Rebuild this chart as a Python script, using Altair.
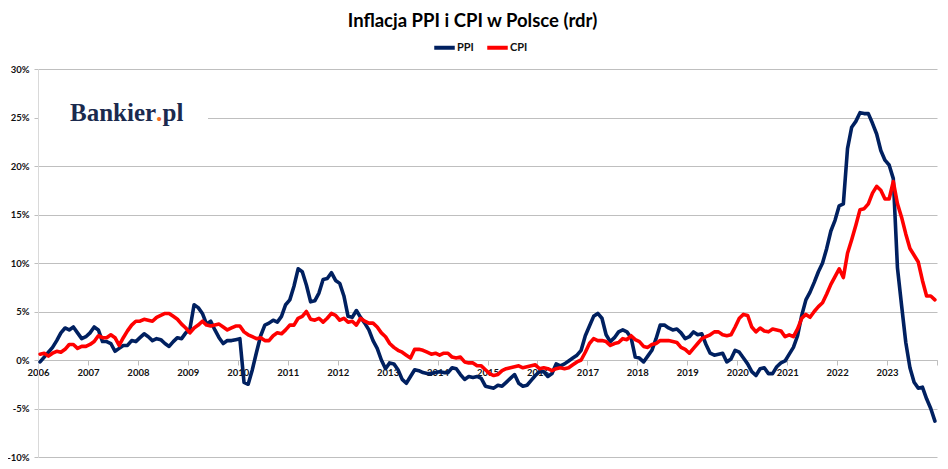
import altair as alt
import pandas as pd

# ---- data (y/y %, monthly, Jan 2006 .. Dec 2023) ----
start_year = 2006
year_ticks = list(range(2006, 2025))
y_ticks = [-10, -5, 0, 5, 10, 15, 20, 25, 30]

ppi = [
    -0.2, 0.3, 0.8, 1.3, 2.0, 2.8, 3.3, 3.1, 3.4, 2.8, 2.2, 2.4,      # 2006
    2.8, 3.4, 3.1, 1.9, 1.9, 1.7, 0.9, 1.2, 1.5, 1.5, 2.0, 1.9,       # 2007
    2.3, 2.7, 2.4, 2.0, 2.2, 2.1, 1.7, 1.4, 1.9, 2.3, 2.2, 2.8,       # 2008
    3.2, 5.7, 5.4, 4.8, 3.7, 4.0, 3.1, 2.3, 1.7, 2.0, 2.0, 2.1,       # 2009
    2.2, -2.3, -2.5, -1.0, 0.8, 2.5, 3.6, 3.8, 4.1, 3.9, 4.5, 5.7,    # 2010
    6.2, 7.6, 9.4, 9.1, 7.7, 6.0, 6.1, 6.9, 8.3, 8.4, 9.0, 8.2,       # 2011
    7.9, 6.6, 4.5, 4.4, 5.1, 4.4, 3.8, 3.1, 2.0, 1.2, 0.0, -0.9,      # 2012
    -0.3, -0.4, -1.0, -2.0, -2.4, -1.7, -1.0, -1.1, -1.3, -1.4, -1.4, -1.3,  # 2013
    -1.2, -1.3, -1.3, -0.8, -0.9, -1.5, -2.0, -1.7, -1.8, -1.7, -1.9, -2.7,  # 2014
    -2.8, -2.9, -2.6, -2.7, -2.3, -1.9, -1.5, -2.4, -2.7, -2.6, -2.1, -1.6,  # 2015
    -1.2, -1.2, -1.7, -1.4, -0.4, -0.6, -0.4, -0.1, 0.2, 0.5, 1.0, 2.5,     # 2016
    3.5, 4.5, 4.8, 4.3, 2.6, 1.9, 2.3, 2.9, 3.1, 2.9, 2.3, 0.3,       # 2017
    0.2, -0.2, 0.4, 1.0, 2.2, 3.6, 3.6, 3.3, 3.1, 3.2, 2.8, 2.2,      # 2018
    2.4, 2.9, 2.6, 2.7, 1.6, 0.7, 0.5, 0.6, 0.7, -0.2, 0.1, 1.0,      # 2019
    0.8, 0.2, -0.4, -1.2, -1.6, -0.9, -0.8, -1.4, -1.4, -0.7, -0.3, -0.1,  # 2020
    0.6, 1.3, 2.5, 4.6, 6.2, 7.0, 8.0, 9.1, 10.0, 11.5, 13.3, 14.4,   # 2021
    15.9, 16.1, 21.8, 24.0, 24.6, 25.5, 25.4, 25.4, 24.4, 23.3, 21.6, 20.6,  # 2022
    20.1, 18.7, 9.5, 5.6, 1.8, -0.8, -2.3, -2.9, -2.8, -4.0, -5.0, -6.3,    # 2023
]

cpi = [
    0.6, 0.7, 0.4, 0.7, 0.9, 0.8, 1.1, 1.6, 1.6, 1.2, 1.4, 1.4,       # 2006
    1.6, 1.9, 2.5, 2.3, 2.3, 2.6, 2.3, 1.5, 2.3, 3.0, 3.6, 4.0,       # 2007
    4.0, 4.2, 4.1, 4.0, 4.4, 4.6, 4.8, 4.8, 4.5, 4.2, 3.7, 3.3,       # 2008
    2.8, 3.3, 3.6, 4.0, 3.6, 3.5, 3.6, 3.7, 3.4, 3.1, 3.3, 3.5,       # 2009
    3.5, 2.9, 2.6, 2.4, 2.2, 2.3, 2.0, 2.0, 2.5, 2.8, 2.7, 3.1,       # 2010
    3.6, 3.6, 4.3, 4.5, 5.0, 4.2, 4.1, 4.3, 3.9, 4.3, 4.8, 4.6,       # 2011
    4.1, 4.3, 3.9, 4.0, 3.6, 4.3, 4.0, 3.8, 3.8, 3.4, 2.8, 2.4,       # 2012
    1.7, 1.3, 1.0, 0.8, 0.5, 0.2, 1.1, 1.1, 1.0, 0.8, 0.6, 0.7,       # 2013
    0.5, 0.7, 0.7, 0.3, 0.2, 0.3, -0.2, -0.3, -0.3, -0.6, -0.6, -1.0,  # 2014
    -1.4, -1.6, -1.5, -1.1, -0.9, -0.8, -0.7, -0.6, -0.8, -0.7, -0.6, -0.5,  # 2015
    -0.9, -0.8, -0.9, -1.1, -0.9, -0.8, -0.9, -0.8, -0.5, -0.2, 0.0, 0.8,   # 2016
    1.7, 2.2, 2.0, 2.0, 1.9, 1.5, 1.7, 1.8, 2.2, 2.1, 2.5, 2.1,       # 2017
    1.9, 1.4, 1.3, 1.6, 1.7, 2.0, 2.0, 2.0, 1.9, 1.8, 1.3, 1.1,       # 2018
    0.7, 1.2, 1.7, 2.2, 2.4, 2.6, 2.9, 2.9, 2.6, 2.5, 2.6, 3.4,       # 2019
    4.3, 4.7, 4.6, 3.4, 2.9, 3.3, 3.0, 2.9, 3.2, 3.1, 3.0, 2.4,       # 2020
    2.6, 2.4, 3.2, 4.3, 4.7, 4.4, 5.0, 5.5, 5.9, 6.8, 7.8, 8.6,       # 2021
    9.4, 8.5, 11.0, 12.4, 13.9, 15.5, 15.6, 16.1, 17.2, 17.9, 17.5, 16.6,  # 2022
    16.6, 18.4, 16.1, 14.7, 13.0, 11.5, 10.8, 10.1, 8.2, 6.6, 6.6, 6.2,    # 2023
]

series_names = ["PPI", "CPI"]
series_colors = ["#002060", "#FF0000"]
title_text = "Inflacja PPI i CPI w Polsce (rdr)"

# month centre positions on a fractional-year axis
n = len(ppi)
t = [start_year + (i + 0.5) / 12 for i in range(n)]
df = pd.DataFrame({
    "t": t + t,
    "value": ppi + cpi,
    "series": ["PPI"] * n + ["CPI"] * n,
})

W, H = 899, 388
FONT = "Lato"
zero_offset = -round(H * 10 / 40)

x_axis = alt.Axis(
    values=year_ticks,
    labelExpr="datum.value < 2024 ? format(datum.value, 'd') : ''",
    grid=False, offset=zero_offset, tickSize=5, tickColor="#BFBFBF",
    domainColor="#BFBFBF", domainWidth=1, labelFlush=False, labelOverlap=False,
    labelFont=FONT, labelFontWeight="bold", labelFontSize=9.5, labelColor="#111111",
    labelPadding=2, title=None,
)
y_axis = alt.Axis(
    values=y_ticks, labelExpr="datum.value + '%'",
    grid=True, gridColor="#BFBFBF", gridWidth=1,
    domainColor="#D9D9D9", tickColor="#BFBFBF", tickSize=4,
    labelFont=FONT, labelFontWeight="bold", labelFontSize=9.5, labelColor="#111111",
    labelPadding=5, title=None,
)

lines = alt.Chart(df).mark_line(
    strokeWidth=3.6, strokeJoin="round", strokeCap="round"
).encode(
    x=alt.X("t:Q", scale=alt.Scale(domain=[2006, 2024], nice=False, zero=False), axis=x_axis),
    y=alt.Y("value:Q", scale=alt.Scale(domain=[-10, 30], nice=False), axis=y_axis),
    color=alt.Color(
        "series:N",
        sort=series_names,
        scale=alt.Scale(domain=series_names, range=series_colors),
        legend=alt.Legend(
            orient="none", legendX=394, legendY=-34, direction="horizontal",
            symbolType="stroke", symbolStrokeWidth=4, symbolSize=420,
            labelFont=FONT, labelFontWeight="bold", labelFontSize=11,
            labelColor="#111111", labelOffset=0, columnPadding=5, padding=0,
            title=None,
        ),
    ),
)

# white patch under the logo (covers the 25% gridline like the original)
logo_bg = alt.Chart(pd.DataFrame({"a": [0]})).mark_rect(color="white").encode(
    x=alt.value(1), x2=alt.value(170), y=alt.value(30), y2=alt.value(64)
)
logo_font = "Liberation Serif"
logo1 = alt.Chart(pd.DataFrame({"s": ["Bankier"]})).mark_text(
    font=logo_font, fontSize=25, fontWeight="bold", color="#1B2A4E",
    align="left", baseline="alphabetic"
).encode(text="s:N", x=alt.value(32), y=alt.value(52))
logo2 = alt.Chart(pd.DataFrame({"s": ["."]})).mark_text(
    font=logo_font, fontSize=25, fontWeight="bold", color="#F26B21",
    align="left", baseline="alphabetic"
).encode(text="s:N", x=alt.value(118), y=alt.value(52))
logo3 = alt.Chart(pd.DataFrame({"s": ["pl"]})).mark_text(
    font=logo_font, fontSize=25, fontWeight="bold", color="#1B2A4E",
    align="left", baseline="alphabetic"
).encode(text="s:N", x=alt.value(124.5), y=alt.value(52))

title = alt.Chart(pd.DataFrame({"s": [title_text]})).mark_text(
    font=FONT, fontSize=18.5, fontWeight="bold", color="#000000",
    align="center", baseline="alphabetic"
).encode(text="s:N", x=alt.value(434.5), y=alt.value(-42.5))

chart = alt.layer(logo_bg, lines, logo1, logo2, logo3, title).properties(
    width=W, height=H,
    padding={"left": 30, "top": 61, "right": 3, "bottom": 4},
    autosize=alt.AutoSizeParams(type="none"),
    background="white",
).configure_view(stroke=None)

chart.save("out.html", embed_options={"renderer": "svg", "actions": False})
